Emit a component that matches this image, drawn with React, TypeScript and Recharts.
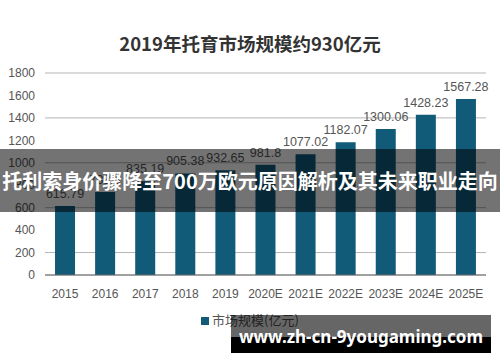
import { BarChart, Bar, XAxis, YAxis, CartesianGrid, LabelList } from "recharts"

const years = ["2015", "2016", "2017", "2018", "2019", "2020E", "2021E", "2022E", "2023E", "2024E", "2025E"]
const marketSize = [615.79, 738.6, 835.19, 905.38, 932.65, 981.8, 1077.02, 1182.07, 1300.06, 1428.23, 1567.28]
const yTicks = [0, 200, 400, 600, 800, 1000, 1200, 1400, 1600, 1800]

const title = "2019年托育市场规模约930亿元"
const seriesName = "市场规模(亿元)"
const bannerText = "托利索身价骤降至700万欧元原因解析及其未来职业走向"
const watermark = "www.zh-cn-9yougaming.com"

const chartData = years.map((year, i) => ({ year, value: marketSize[i] }))

const sans = '"Liberation Sans", Arial, sans-serif'
const cjk = '"Noto Sans CJK SC", "Noto Sans", sans-serif'
const barColor = "#115a78"

export default function App() {
  return (
    <div style={{ position: "absolute", left: 0, top: 0, width: 500, height: 362, background: "#fff", overflow: "hidden" }}>
      <div
        style={{
          position: "absolute",
          top: 30,
          left: 0,
          width: 500,
          textAlign: "center",
          fontFamily: cjk,
          fontWeight: 700,
          fontSize: 18.5,
          lineHeight: "26px",
          color: "#333",
        }}
      >
        {title}
      </div>
      {/* x axis takes 30px, so bottom margin + 30 puts the baseline at y=275 */}
      <BarChart
        width={500}
        height={362}
        data={chartData}
        margin={{ top: 73, right: 14, left: 0, bottom: 57 }}
        barCategoryGap="25%"
      >
        <CartesianGrid vertical={false} stroke="#b5b5b5" />
        <XAxis
          dataKey="year"
          axisLine={{ stroke: "#666" }}
          tickLine={false}
          interval={0}
          tickMargin={8}
          tick={{ fontSize: 12, fill: "#555", fontFamily: sans }}
        />
        <YAxis
          width={45}
          domain={[0, 1800]}
          ticks={yTicks}
          axisLine={false}
          tickLine={false}
          tickMargin={4}
          tick={{ fontSize: 12, fill: "#555", fontFamily: sans }}
        />
        <Bar dataKey="value" name={seriesName} fill={barColor} isAnimationActive={false}>
          <LabelList dataKey="value" position="top" offset={8} fill="#555" fontSize={12.5} fontFamily={sans} />
        </Bar>
      </BarChart>
      {/* legend */}
      <div
        style={{
          position: "absolute",
          left: 0,
          top: 311,
          width: 500,
          textAlign: "center",
          fontFamily: cjk,
          fontSize: 13,
          lineHeight: "18px",
          color: "#555",
        }}
      >
        <span style={{ display: "inline-block", width: 8, height: 8, background: barColor, marginRight: 3 }} />
        {seriesName}
      </div>
      <div
        style={{
          position: "absolute",
          left: 0,
          top: 149,
          width: 500,
          height: 63,
          background: "rgba(0,0,0,0.55)",
          color: "#fff",
          fontFamily: cjk,
          fontWeight: 700,
          fontSize: 20,
          lineHeight: "63px",
          textAlign: "center",
          whiteSpace: "nowrap",
        }}
      >
        {bannerText}
      </div>
      <div style={{ position: "absolute", left: 231, top: 315, width: 260, height: 22, background: "rgba(0,0,0,0.6)" }} />
      <div style={{ position: "absolute", left: 231, top: 337, width: 260, height: 16, background: "#000" }} />
      <div
        style={{
          position: "absolute",
          left: 231,
          top: 325,
          width: 260,
          textAlign: "center",
          color: "#fff",
          fontFamily: '"Noto Sans", sans-serif',
          fontWeight: 700,
          fontSize: 17,
          lineHeight: "24px",
          whiteSpace: "nowrap",
        }}
      >
        {watermark}
      </div>
    </div>
  )
}
